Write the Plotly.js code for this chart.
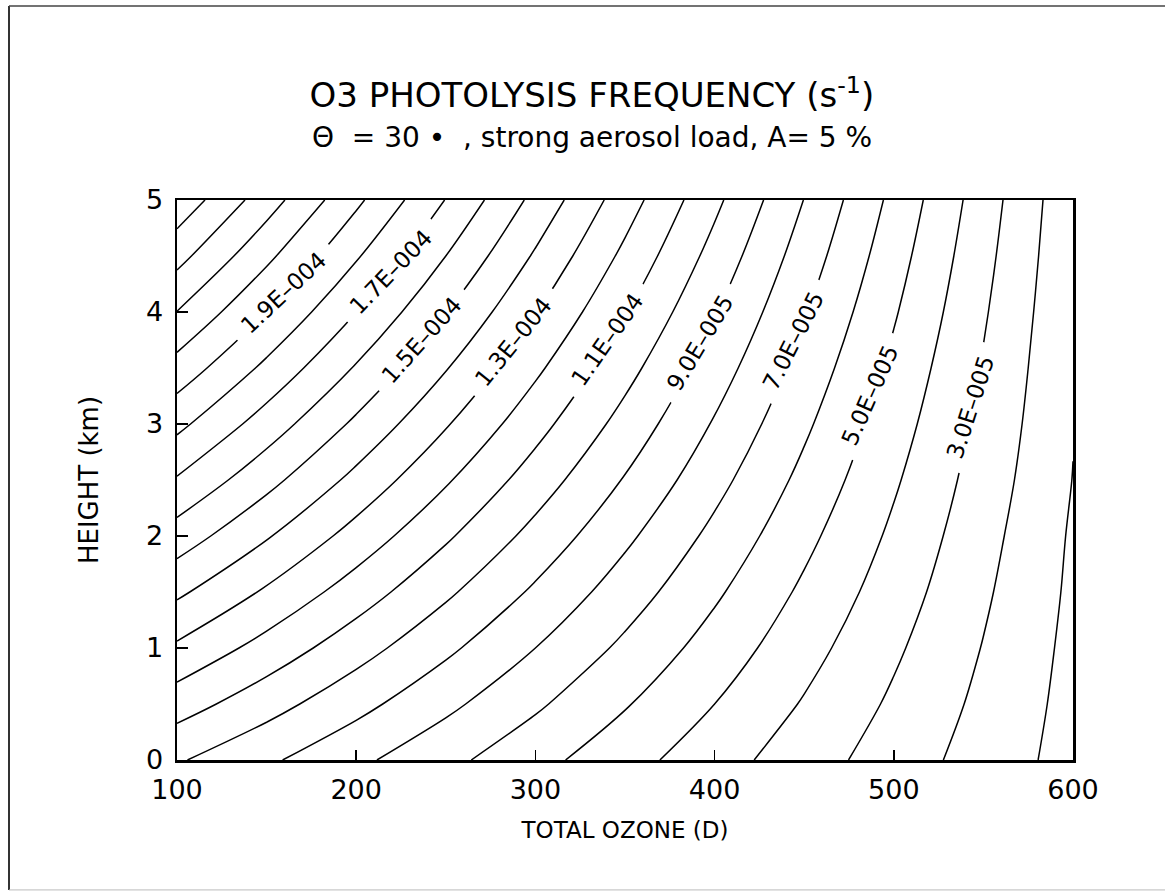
<!DOCTYPE html>
<html>
<head>
<meta charset="utf-8">
<script src="https://cdn.plot.ly/plotly-3.0.1.min.js"></script>
<style>html,body{margin:0;padding:0;background:#fff;}</style>
</head>
<body>
<div id="chart" style="width:1165px;height:892px;"></div>
<script>
// ---- data ----
// total ozone (Dobson units), columns of the grid
const totalOzone = [100, 150, 200, 250, 300, 350, 400, 450, 500, 550, 600];
// height (km), rows of the grid
const heightKm = [0, 0.5, 1, 1.5, 2, 2.5, 3, 3.5, 4, 4.5, 5];
// O3 photolysis frequency, in units of 1E-005 s-1 (rows = heights, cols = total ozone)
const jO3 = [
  [10.11,  9.17,  8.22,  7.27,  6.32,  5.37,  4.42,  3.47,  2.52,  1.58, 0.63],
  [11.47, 10.40,  9.32,  8.24,  7.16,  6.08,  5.00,  3.92,  2.84,  1.77, 0.69],
  [12.83, 11.63, 10.42,  9.21,  8.00,  6.79,  5.58,  4.37,  3.16,  1.96, 0.75],
  [14.19, 12.86, 11.52, 10.18,  8.84,  7.50,  6.16,  4.82,  3.49,  2.15, 0.82],
  [15.55, 14.09, 12.62, 11.15,  9.68,  8.21,  6.74,  5.27,  3.81,  2.34, 0.88],
  [16.91, 15.32, 13.72, 12.12, 10.52,  8.93,  7.33,  5.73,  4.13,  2.54, 0.98],
  [18.26, 16.54, 14.81, 13.09, 11.36,  9.64,  7.91,  6.18,  4.45,  2.73, 1.04],
  [19.62, 17.77, 15.91, 14.06, 12.20, 10.35,  8.49,  6.63,  4.77,  2.92, 1.08],
  [20.98, 19.00, 17.01, 15.03, 13.04, 11.06,  9.07,  7.08,  5.10,  3.11, 1.13],
  [22.34, 20.23, 18.11, 16.00, 13.88, 11.77,  9.65,  7.53,  5.42,  3.30, 1.19],
  [23.70, 21.46, 19.21, 16.97, 14.72, 12.48, 10.23,  7.98,  5.74,  3.49, 1.25]
];
// contour levels (units of 1E-005 s-1)
const levelStart = 1;
const levelEnd = 23;
const levelStep = 1;
// labelled contour levels (units of 1E-005 s-1)
const labelledLevels = [19, 17, 15, 13, 11, 9, 7, 5, 3];
// axis ticks
const xTicks = [100, 200, 300, 400, 500, 600];
const yTicks = [0, 1, 2, 3, 4, 5];

// ---- layout-only placement of the contour labels (data coords + angle) ----
const labelPlacement = [
  {x: 159.3, y: 4.17, a: -43},
  {x: 219.2, y: 4.36, a: -46},
  {x: 236.5, y: 3.75, a: -48},
  {x: 287.7, y: 3.73, a: -51},
  {x: 340.0, y: 3.75, a: -55},
  {x: 391.9, y: 3.72, a: -59},
  {x: 443.9, y: 3.74, a: -63},
  {x: 486.7, y: 3.26, a: -66},
  {x: 542.9, y: 3.15, a: -72}
];

function fmtLevel(v) {
  const val = v * 1e-5;
  const e = Math.floor(Math.log10(val) + 1e-9);
  const m = val / Math.pow(10, e);
  const sign = e < 0 ? '\u2013' : '+';
  return m.toFixed(1) + 'E' + sign + String(Math.abs(e)).padStart(3, '0');
}

const FONT = 'DejaVu Sans, Liberation Sans, sans-serif';

const trace = {
  type: 'contour',
  x: totalOzone,
  y: heightKm,
  z: jO3,
  showscale: false,
  hoverinfo: 'skip',
  contours: {
    coloring: 'none',
    start: levelStart,
    end: levelEnd,
    size: levelStep,
    showlabels: false
  },
  line: {color: '#000', width: 1.5, smoothing: 1}
};

const annotations = labelledLevels.map((lv, i) => ({
  x: labelPlacement[i].x,
  y: labelPlacement[i].y,
  xref: 'x', yref: 'y',
  text: '\u00a0' + fmtLevel(lv) + '\u00a0',
  textangle: labelPlacement[i].a,
  showarrow: false,
  bgcolor: '#ffffff',
  borderpad: 5,
  font: {family: FONT, size: 23, color: '#000'}
}));

annotations.push({
  xref: 'paper', yref: 'paper',
  x: 0.463, y: 1.112,
  xanchor: 'center', yanchor: 'middle',
  showarrow: false,
  text: '\u0398\u00a0\u00a0=\u00a030\u00a0\u2022\u00a0\u00a0,\u00a0strong aerosol load, A=\u00a05\u00a0%',
  font: {family: FONT, size: 28, color: '#000'}
});

const layout = {
  width: 1165,
  height: 892,
  paper_bgcolor: '#fff',
  plot_bgcolor: '#fff',
  margin: {l: 177, r: 92, t: 200, b: 132},
  showlegend: false,
  title: {
    text: 'O3 PHOTOLYSIS FREQUENCY (s<sup>-1</sup>)',
    x: 0.508, xanchor: 'center', xref: 'container',
    y: 0.8934, yanchor: 'middle', yref: 'container',
    font: {family: FONT, size: 34, color: '#000'}
  },
  xaxis: {
    range: [100, 600],
    tickvals: xTicks,
    ticks: 'inside', ticklen: 10, tickwidth: 1.5, tickcolor: '#000',
    showline: true, linecolor: '#000', linewidth: 2.5, mirror: true,
    showgrid: false, zeroline: false,
    tickfont: {family: FONT, size: 27, color: '#000'},
    ticklabelstandoff: 4,
    title: {text: 'TOTAL OZONE (D)', font: {family: FONT, size: 23, color: '#000'}, standoff: 18}
  },
  yaxis: {
    range: [0, 5],
    tickvals: yTicks,
    ticks: 'inside', ticklen: 11, tickwidth: 1.5, tickcolor: '#000',
    showline: true, linecolor: '#000', linewidth: 2.5, mirror: true,
    showgrid: false, zeroline: false,
    tickfont: {family: FONT, size: 27, color: '#000'},
    ticklabelstandoff: 6,
    title: {text: 'HEIGHT (km)', font: {family: FONT, size: 26, color: '#000'}, standoff: 40}
  },
  annotations: annotations,
  shapes: [
    {type: 'line', xref: 'paper', yref: 'paper', x0: -0.1875, x1: -0.1875, y0: -0.232, y1: 1.3464, line: {color: '#333', width: 2}},
    {type: 'line', xref: 'paper', yref: 'paper', x0: -0.1875, x1: 1.103, y0: 1.3464, y1: 1.3464, line: {color: '#444', width: 1.5}},
    {type: 'line', xref: 'paper', yref: 'paper', x0: -0.1875, x1: 1.103, y0: -0.232, y1: -0.232, line: {color: '#bbb', width: 1}}
  ]
};

Plotly.newPlot('chart', [trace], layout, {staticPlot: true, displayModeBar: false});
</script>
</body>
</html>
